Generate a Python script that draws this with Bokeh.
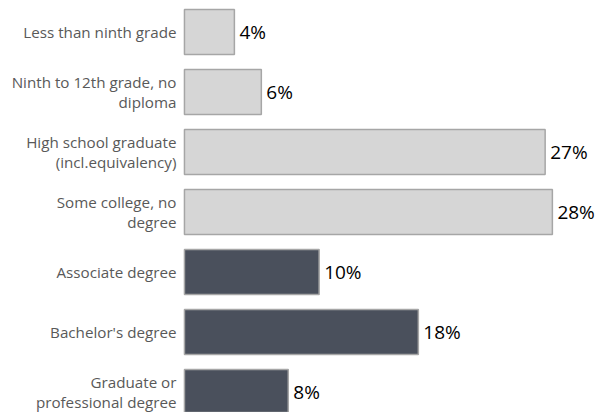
from bokeh.plotting import figure
from bokeh.models import ColumnDataSource, Range1d
from bokeh.core.properties import value
from bokeh.embed import file_html
from bokeh.resources import INLINE

categories = [
    "Less than ninth grade",
    "Ninth to 12th grade, no\ndiploma",
    "High school graduate\n(incl.equivalency)",
    "Some college, no\ndegree",
    "Associate degree",
    "Bachelor's degree",
    "Graduate or\nprofessional degree",
]
shares = [3.8, 5.85, 27.45, 28.0, 10.25, 17.8, 7.9]
labels = ["4%", "6%", "27%", "28%", "10%", "18%", "8%"]
colors = ["#d6d6d6"] * 4 + ["#4a505c"] * 3

positions = list(range(len(categories)))
src = ColumnDataSource(dict(y=positions, v=shares, cat=categories, lab=labels,
                            c=colors, zero=[0] * len(shares)))

p = figure(width=598, height=412, output_backend="svg", toolbar_location=None,
           x_range=Range1d(-14.0, 31.51), y_range=Range1d(6.342, -0.525),
           min_border=0)
p.outline_line_color = None
p.grid.visible = False
p.axis.visible = False
p.background_fill_color = "white"

p.hbar(y="y", left=0, right="v", height=0.75, fill_color="c",
       line_color="#a6a6a6", line_width=1.5, source=src)

p.text(x="zero", y="y", text="cat", source=src, x_offset=-8,
       text_align="right", text_baseline="middle",
       text_font=value("Open Sans"), text_font_size="15.2px",
       text_color="#595959", text_line_height=0.97)

p.text(x="v", y="y", text="lab", source=src, x_offset=5,
       text_align="left", text_baseline="middle",
       text_font=value("Open Sans"), text_font_size="19px",
       text_color="#000000")

open("out.html", "w").write(file_html(p, INLINE))
